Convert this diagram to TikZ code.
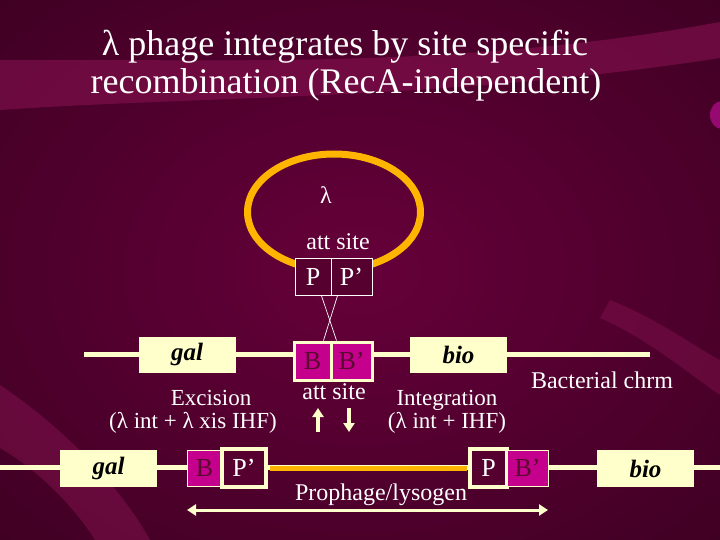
\documentclass[tikz,border=0pt]{standalone}
\usepackage{fontspec}
\setmainfont{Liberation Serif}
\usetikzlibrary{arrows.meta}
\definecolor{bgmid}{HTML}{66003A}
\definecolor{bgdark}{HTML}{30001A}
\definecolor{band}{HTML}{85124F}
\definecolor{cream}{HTML}{FFFFCC}
\definecolor{magbox}{HTML}{C4008C}
\definecolor{gold}{HTML}{FFB400}
\definecolor{boxtext}{HTML}{5A0A30}
\definecolor{boxbg}{HTML}{560030}
\begin{document}
\begin{tikzpicture}[x=1pt,y=-1pt,
  lbl/.style={text=white, font=\fontsize{24}{28}\selectfont, inner sep=0pt, anchor=base},
  lbltwo/.style={text=white, font=\fontsize{23}{23}\selectfont, inner sep=0pt, align=center, anchor=base},
  titletext/.style={text=white, font=\fontsize{36}{42}\selectfont, inner sep=0pt, anchor=base},
  gene/.style={fill=cream, minimum width=97pt, minimum height=36pt, inner sep=0pt, text=black, font=\fontsize{25}{28}\selectfont\bfseries\itshape},
  bthick/.style={fill=magbox, draw=cream, line width=3pt, inner sep=0pt, text=boxtext, font=\fontsize{26}{30}\selectfont},
  bthin/.style={fill=magbox, draw=cream, line width=1pt, inner sep=0pt, text=boxtext, font=\fontsize{26}{30}\selectfont},
  pthick/.style={fill=boxbg, draw=cream, line width=3.5pt, inner sep=0pt, text=white, font=\fontsize{26}{30}\selectfont},
  pthin/.style={fill=boxbg, draw=white, line width=0.8pt, inner sep=0pt, text=white, font=\fontsize{26}{30}\selectfont},
  chrom/.style={cream, line width=5pt},
  arrowhd/.style={-{Triangle[length=9pt,width=11pt]}},
]
\useasboundingbox (0,0) rectangle (720,540);
% background
\begin{scope}
\clip (0,0) rectangle (720,540);
\shade[inner color=bgmid, outer color=bgdark] (-360,-270) rectangle (1080,810);
\fill[band, opacity=0.6] (0,60) .. controls (200,58) and (450,72) .. (720,22) -- (720,58) .. controls (450,100) and (200,96) .. (0,110) -- cycle;
\fill[band, opacity=0.5] (0,385) .. controls (60,425) and (120,485) .. (150,540) -- (95,540) .. controls (70,500) and (30,465) .. (0,448) -- cycle;
\fill[band, opacity=0.45] (610,300) .. controls (660,320) and (700,350) .. (720,360) -- (720,395) .. controls (690,375) and (650,340) .. (600,318) -- cycle;
\fill[band!70!magenta, opacity=0.8] (722,115) ellipse [x radius=12, y radius=14];
\end{scope}
% title
\node[titletext] (t1) at (345,56) {λ phage integrates by site specific};
\node[titletext] (t2) at (346,94) {recombination (RecA-independent)};
% phage circle
\draw[gold, line width=7pt] (334,212) ellipse [x radius=86.5, y radius=58];
\node[lbl] (lam) at (326,204) {λ};
\node[lbl] (att1) at (338,249) {att site};
\node[pthin, minimum width=36pt, minimum height=37pt] (P1) at (313,276.5) {P};
\node[pthin, minimum width=41pt, minimum height=37pt] (Pp1) at (351.5,276.5) {P’};
% top chromosome
\coordinate (tL) at (84,354);
\coordinate (tR) at (650,354);
\draw[chrom] (tL) -- (tR);
\node[gene] (gal1) at (187,354.5) {gal};
\node[gene] (bio1) at (458.5,354.5) {bio};
\node[bthick, minimum width=37pt, minimum height=38pt] (B1) at (312.5,361) {B};
\node[bthick, minimum width=41pt, minimum height=38pt] (Bp1) at (351.5,361) {B’};
\draw[white, line width=0.7pt] ([xshift=-10pt]P1.south east) -- ([xshift=7pt]Bp1.north west);
\draw[white, line width=0.7pt] ([xshift=7pt]Pp1.south west) -- ([xshift=-9pt]B1.north east);
\node[lbl] (bact) at (602,388) {Bacterial chrm};
\node[lbltwo] (exc) at (193,428) {\hspace*{36pt}Excision\\(λ int + λ xis IHF)};
\node[lbl] (att2) at (334,399) {att site};
\node[lbltwo] (integ) at (447,428) {Integration\\(λ int + IHF)};
\coordinate (upS) at (318,432);
\coordinate (upE) at (318,408);
\coordinate (dnS) at (349,408);
\coordinate (dnE) at (349,432);
\draw[cream, line width=4pt, arrowhd] (upS) -- (upE);
\draw[cream, line width=4pt, arrowhd] (dnS) -- (dnE);
% bottom chromosome
\coordinate (bL) at (0,467);
\coordinate (bR) at (720,467);
\draw[chrom] (bL) -- (bR);
\node[gene, minimum height=37pt] (gal2) at (108.5,468.5) {gal};
\node[gene, minimum height=37pt] (bio2) at (645.5,468.5) {bio};
\node[bthin, minimum width=35pt, minimum height=36pt] (B2) at (204.5,468) {B};
\node[pthick, minimum width=44pt, minimum height=38pt] (Pp2) at (244,468) {P’};
\node[pthick, minimum width=37pt, minimum height=38pt] (P2) at (488.5,468) {P};
\node[bthin, minimum width=41pt, minimum height=36pt] (Bp2) at (527.5,468) {B’};
\draw[gold, line width=5pt, shorten <=1.75pt, shorten >=1.75pt] (Pp2.east) -- (P2.west);
\node[lbl] (proph) at (381,500) {Prophage/lysogen};
\coordinate (aL) at (187,510);
\coordinate (aR) at (548,510);
\draw[cream, line width=3pt, {Triangle[length=9pt,width=11pt]}-{Triangle[length=9pt,width=11pt]}] (aL) -- (aR);
\end{tikzpicture}
\end{document}
